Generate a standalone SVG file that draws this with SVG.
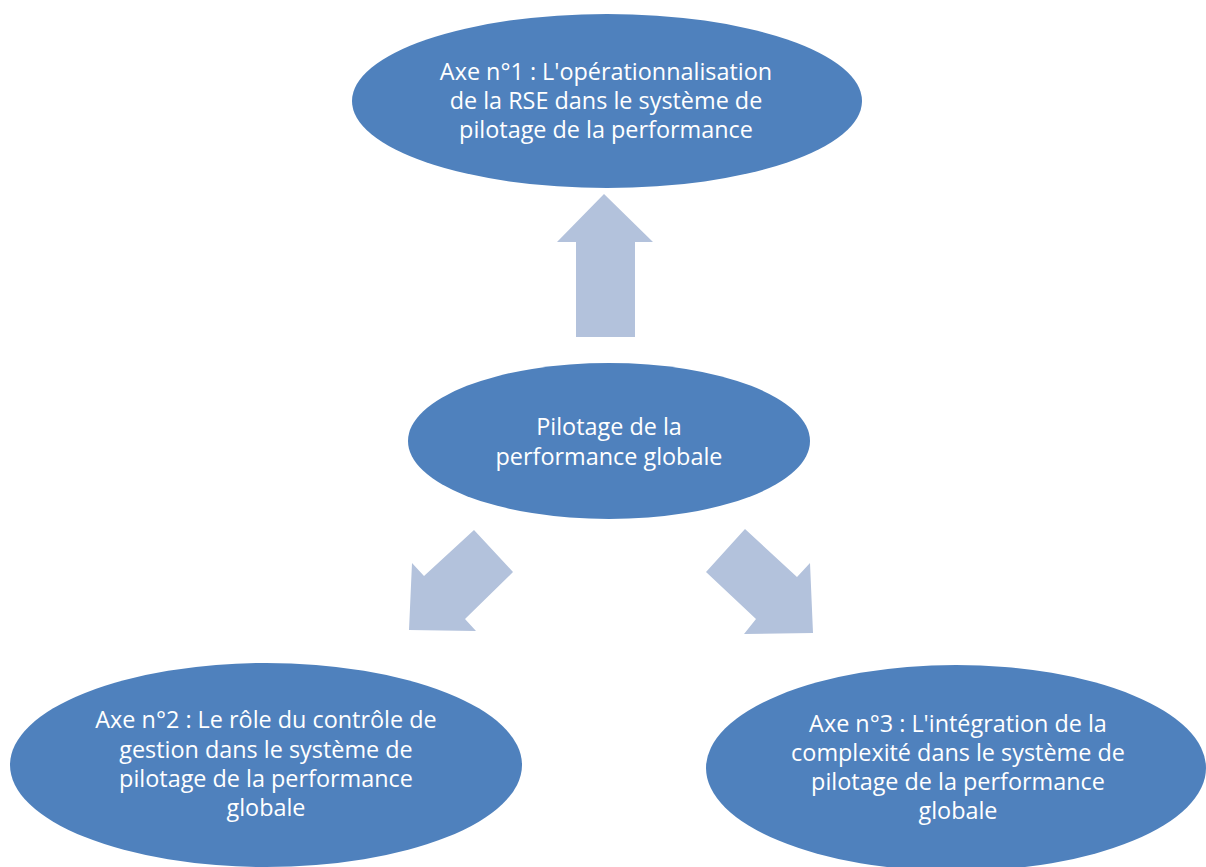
<svg xmlns="http://www.w3.org/2000/svg" width="1206" height="867" viewBox="0 0 1206 867">
<style>
.node{fill:#4F81BD;}
.arrow{fill:#B3C2DC;}
text{font-family:"Open Sans","Liberation Sans",Arial,sans-serif;font-size:23.4px;fill:#FFFFFF;text-anchor:middle;}
</style>
<rect width="1206" height="867" fill="#FFFFFF"/>
<g id="connectors">
<polygon class="arrow" points="576,337 635,337 635,242 653,242 604,194 557,242 576,242"/>
<polygon class="arrow" points="474,530 513,572 465,619 476,631 409,630 412,563 424,576"/>
<polygon class="arrow" points="745,529 706,572 756,619 744,634 813,633 810,563 797,577"/>
</g>
<g id="axe1">
<ellipse class="node" cx="607" cy="101" rx="255" ry="87"/>
<text x="606" y="80">Axe n°1 : L'opérationnalisation</text>
<text x="606" y="109">de la RSE dans le système de</text>
<text x="606" y="138">pilotage de la performance</text>
</g>
<g id="center">
<ellipse class="node" cx="609" cy="441" rx="201" ry="78"/>
<text x="609" y="435">Pilotage de la</text>
<text x="609" y="465">performance globale</text>
</g>
<g id="axe2">
<ellipse class="node" cx="266" cy="765" rx="256" ry="102"/>
<text x="266" y="728">Axe n°2 : Le rôle du contrôle de</text>
<text x="266" y="758">gestion dans le système de</text>
<text x="266" y="787">pilotage de la performance</text>
<text x="266" y="816">globale</text>
</g>
<g id="axe3">
<ellipse class="node" cx="956" cy="768" rx="250" ry="103"/>
<text x="958" y="732">Axe n°3 : L'intégration de la</text>
<text x="958" y="761">complexité dans le système de</text>
<text x="958" y="790">pilotage de la performance</text>
<text x="958" y="819">globale</text>
</g>
</svg>
